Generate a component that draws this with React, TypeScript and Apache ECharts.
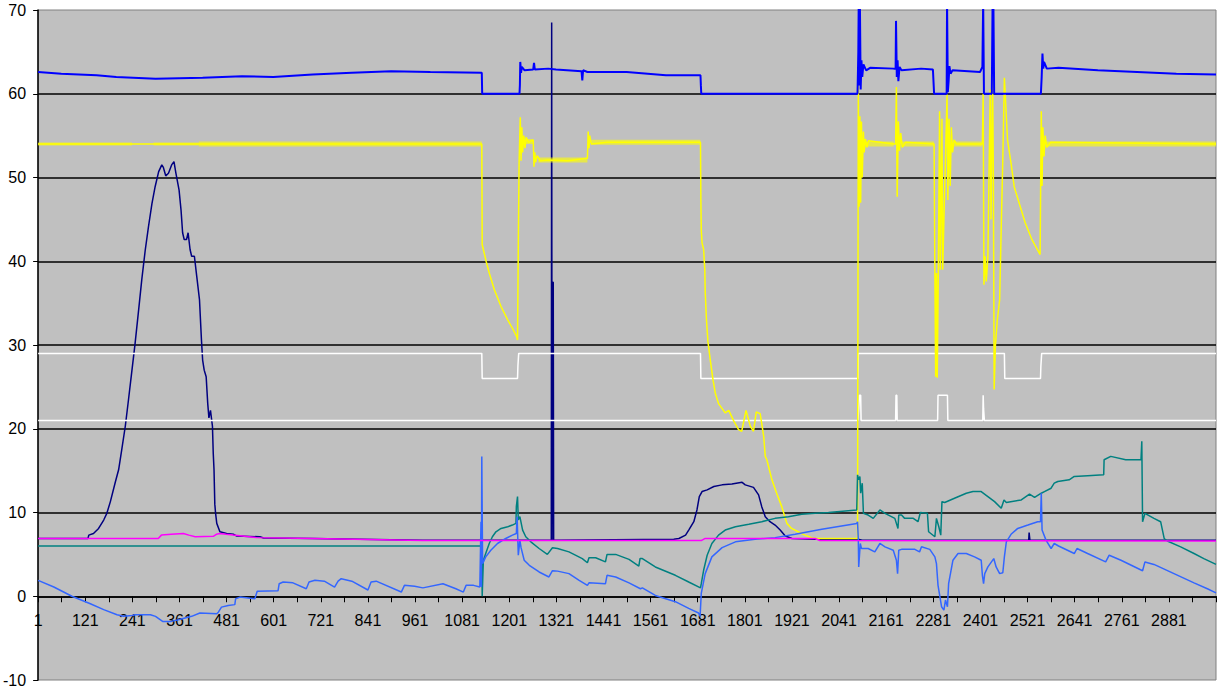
import React, { useEffect, useRef } from 'react';
import * as echarts from 'echarts';

type Pt = [number, number];

// x = sample number (1..3001), y = value
const xTickLabels: string[] = ['1', '121', '241', '361', '481', '601', '721', '841', '961', '1081', '1201', '1321', '1441', '1561', '1681', '1801', '1921', '2041', '2161', '2281', '2401', '2521', '2641', '2761', '2881'];

const blueSeries: Pt[] = [
  [1, 62.6], [60, 62.4], [150, 62.2], [200, 62.0], [300, 61.8], [420, 61.9], [520, 62.1], [600, 62.0], [700, 62.3], [800, 62.5], [900, 62.7], [1000, 62.6], [1131, 62.5],
  [1132, 60], [1227, 60], [1228, 61], [1229, 63.8], [1231, 62.5], [1233, 63.2], [1240, 62.8], [1262, 62.9], [1264, 63.7], [1266, 62.9], [1300, 63.0], [1320, 62.9], [1385, 62.7],
  [1387, 61.6], [1389, 62.8], [1400, 62.6], [1500, 62.6], [1600, 62.2], [1688, 62.2], [1689, 61], [1690, 60], [2088, 60], [2090, 65], [2091, 71], [2093, 61], [2094, 71],
  [2096, 60.5], [2098, 64], [2100, 62], [2103, 63.5], [2110, 62.8], [2120, 63.1], [2180, 63], [2185, 63], [2186, 68.7], [2188, 62], [2190, 64], [2192, 61.5], [2195, 63.2],
  [2200, 62.8], [2250, 63], [2280, 62.9], [2283, 60], [2315, 60], [2316, 71], [2318, 60.2], [2320, 61.5], [2322, 63.3], [2325, 62.4], [2330, 62.8], [2400, 62.6], [2406, 63.2],
  [2408, 71], [2410, 60], [2430, 60], [2432, 71], [2434, 71], [2436, 60], [2555, 60], [2557, 62], [2559, 64.8], [2561, 63], [2563, 63.8], [2570, 63], [2600, 63.1],
  [2700, 62.8], [2800, 62.6], [2900, 62.4], [3001, 62.3],
];

const yellowSeries: Pt[] = [
  [1, 54], [1131, 54], [1132, 42], [1142, 40], [1150, 38.6], [1163, 36.6], [1180, 34.6], [1197, 33], [1209, 32], [1220, 31], [1222, 30.6], [1224, 42], [1226, 51.7],
  [1229, 57.2], [1231, 52], [1233, 56], [1235, 53], [1238, 55], [1241, 53.5], [1244, 54.8], [1250, 54.2], [1262, 54.5], [1264, 51.3], [1266, 53], [1268, 51.8], [1272, 52.6],
  [1280, 52], [1300, 52.1], [1350, 52], [1400, 52.3], [1402, 55.5], [1404, 53.5], [1406, 55], [1410, 54], [1450, 54.2], [1688, 54.2], [1689, 47.3], [1690, 43.7], [1692, 42.2],
  [1696, 41.4], [1699, 39], [1700, 36.4], [1703, 33.2], [1707, 30.4], [1713, 28.2], [1720, 25.8], [1726, 24.2], [1734, 23], [1751, 21.9], [1760, 22.2], [1772, 21],
  [1785, 19.9], [1793, 19.7], [1804, 22.2], [1815, 20.3], [1823, 19.7], [1830, 22], [1840, 21.8], [1844, 20.6], [1849, 19.1], [1853, 16.7], [1857, 16.3], [1870, 13.9],
  [1882, 12.3], [1895, 10.7], [1908, 8.7], [1920, 8.1], [1937, 7.7], [1954, 7.3], [1971, 7.0], [1984, 6.9], [2088, 6.9], [2090, 61], [2092, 46.5], [2094, 57.3], [2096, 47],
  [2098, 56.7], [2100, 50], [2103, 55.5], [2105, 53], [2108, 54.6], [2112, 53.6], [2116, 54.4], [2180, 54], [2185, 54], [2187, 60.8], [2189, 47.7], [2192, 56.7], [2195, 53.2],
  [2198, 55.3], [2202, 53.6], [2210, 54.2], [2283, 54], [2285, 38.6], [2287, 26.2], [2289, 38.6], [2291, 26.1], [2294, 40], [2297, 57.9], [2299, 39], [2303, 57], [2305, 39],
  [2308, 45], [2316, 59.9], [2318, 47.3], [2321, 57], [2324, 49], [2327, 56], [2330, 53], [2334, 54.5], [2340, 54], [2406, 54], [2408, 60], [2410, 37.2], [2413, 40.6],
  [2416, 37.6], [2420, 40.6], [2426, 60.5], [2428, 45], [2432, 62.1], [2434, 50], [2436, 24.7], [2439, 29.8], [2444, 33], [2450, 35.4], [2454, 44.1], [2458, 52.1],
  [2462, 61.9], [2464, 60.1], [2470, 54.5], [2479, 51.7], [2487, 48.9], [2500, 46.9], [2515, 44.6], [2532, 42.6], [2553, 40.8], [2556, 57.9], [2558, 49], [2560, 56],
  [2563, 52.5], [2566, 55], [2570, 53.6], [2580, 54.2], [3001, 54],
];

// [from, to, level] stretches where the yellow trace jitters around a steady level
const yellowJitterSpans: [number, number, number][] = [
  [1, 240, 54.0], [295, 410, 54.0], [410, 1131, 54.0], [1240, 1262, 54.3], [1275, 1400, 52.1], [1410, 1688, 54.2],
  [2108, 2180, 54.0], [2200, 2283, 54.0], [2334, 2406, 54.0], [2570, 3001, 54.0],
];

const whiteUpperSeries: Pt[] = [
  [1, 29], [1131, 29], [1132, 26], [1222, 26], [1223, 27.5], [1225, 29], [1688, 29], [1689, 26], [2089, 26], [2090, 29], [2462, 29], [2463, 26], [2554, 26], [2555, 27.5], [2557, 29], [3001, 29],
];

const whiteLowerSeries: Pt[] = [
  [1, 21], [2089, 21], [2091, 22.4], [2093, 24], [2096, 24], [2097, 21], [2185, 21], [2186, 24], [2188, 24], [2189, 21], [2292, 21], [2293, 24], [2317, 24], [2318, 21],
  [2407, 21], [2408, 24], [2409, 22.4], [2411, 21], [3001, 21],
];

const navySeries: Pt[] = [
  [1, 6.9], [128, 6.9], [130, 7.3], [142, 7.5], [155, 8.1], [168, 9.1], [176, 9.9], [185, 11.3], [198, 13.7], [206, 15.1], [214, 17.5], [223, 20.3], [231, 23.4], [240, 27],
  [248, 30.2], [257, 34.2], [265, 37.8], [274, 41.4], [282, 44.1], [291, 46.9], [299, 48.9], [308, 50.7], [316, 51.5], [320, 51.2], [326, 50.2], [333, 50.5], [341, 51.5],
  [347, 51.9], [352, 50.5], [360, 48.5], [365, 46.1], [369, 43.4], [373, 42.6], [379, 42.6], [383, 43.4], [388, 41.4], [392, 40.6], [399, 40.6], [405, 38.2], [412, 35.4],
  [417, 30.6], [420, 28.2], [424, 27], [429, 26.2], [433, 23], [436, 21.3], [440, 22.2], [445, 20.3], [447, 17.1], [449, 15.1], [451, 11], [453, 9.9], [456, 8.7], [464, 7.7],
  [481, 7.5], [498, 7.4], [506, 7.2], [566, 7.1], [575, 6.95], [700, 6.9], [980, 6.7], [1308, 6.7], [1309, 68.5], [1310, 6.7], [1311, 37.5], [1313, 37.5], [1314, 6.7],
  [1620, 6.8], [1633, 6.9], [1650, 7.3], [1658, 7.9], [1671, 8.9], [1679, 10.3], [1685, 11.9], [1692, 12.5], [1705, 12.7], [1722, 13.1], [1743, 13.3], [1768, 13.4],
  [1794, 13.6], [1802, 13.3], [1823, 13.0], [1836, 12.1], [1844, 10.7], [1853, 9.5], [1865, 8.9], [1878, 8.5], [1891, 7.9], [1904, 7.2], [1921, 6.9], [1980, 6.8],
  [2089, 6.8], [2100, 6.7], [2524, 6.7], [2525, 7.6], [2527, 6.7], [3001, 6.7],
];

const magentaSeries: Pt[] = [
  [1, 6.9], [307, 6.9], [315, 7.3], [340, 7.4], [371, 7.5], [385, 7.3], [401, 7.1], [447, 7.15], [455, 7.4], [464, 7.5], [480, 7.4], [498, 7.3], [557, 7.0], [700, 6.9],
  [981, 6.65], [1690, 6.65], [1700, 6.9], [1980, 6.9], [1992, 6.65], [3001, 6.6],
];

const tealSeries: Pt[] = [
  [1, 6.0], [1131, 6.0], [1132, 0], [1135, 4.3], [1141, 5.1], [1150, 6.3], [1158, 7.1], [1167, 7.7], [1180, 8.1], [1197, 8.3], [1209, 8.5], [1218, 8.7], [1219, 10.7],
  [1222, 11.9], [1224, 9.1], [1228, 9.5], [1235, 7.9], [1243, 7.1], [1256, 6.5], [1277, 5.7], [1298, 5.0], [1311, 5.8], [1324, 5.7], [1353, 5.3], [1387, 4.5], [1400, 4.0],
  [1404, 4.6], [1421, 4.6], [1446, 4.1], [1450, 5.0], [1472, 5.0], [1506, 4.4], [1531, 3.6], [1534, 4.5], [1540, 4.5], [1573, 3.5], [1624, 2.5], [1658, 1.7], [1688, 1.0],
  [1690, 1.5], [1696, 3.1], [1705, 4.9], [1717, 6.3], [1734, 7.3], [1751, 7.9], [1777, 8.3], [1811, 8.6], [1844, 8.9], [1878, 9.3], [1912, 9.5], [1946, 9.8], [1980, 9.9],
  [2014, 10.0], [2086, 10.3], [2088, 14.5], [2091, 13.9], [2094, 14.3], [2096, 12.3], [2100, 13.5], [2103, 9.9], [2115, 9.7], [2128, 9.3], [2145, 10.3], [2158, 9.9],
  [2183, 9.3], [2191, 8.1], [2193, 9.7], [2200, 9.7], [2208, 9.3], [2230, 9.3], [2242, 8.9], [2248, 10.0], [2266, 9.9], [2269, 7.7], [2285, 7.1], [2289, 9.3], [2295, 8.3],
  [2300, 7.3], [2303, 11.3], [2310, 11.2], [2335, 11.7], [2365, 12.3], [2382, 12.5], [2403, 12.5], [2420, 11.9], [2437, 11.3], [2454, 10.5], [2461, 11.5], [2467, 11.2],
  [2505, 11.5], [2526, 12.2], [2539, 11.8], [2556, 12.3], [2564, 12.5], [2581, 12.9], [2589, 13.5], [2598, 13.7], [2627, 13.9], [2640, 14.3], [2674, 14.4], [2715, 14.5],
  [2716, 16.3], [2733, 16.7], [2771, 16.3], [2810, 16.3], [2812, 18.5], [2814, 8.9], [2820, 9.9], [2843, 9.3], [2860, 8.9], [2869, 6.9], [2877, 6.6], [2911, 5.9],
  [2945, 5.1], [2970, 4.5], [3001, 3.8],
];

const lightBlueSeries: Pt[] = [
  [1, 1.9], [41, 1.1], [87, 0], [134, -0.9], [168, -1.6], [202, -2.2], [219, -2.4], [240, -2.3], [248, -2.2], [287, -2.2], [300, -2.4], [318, -3.0], [340, -3.0], [358, -2.8],
  [375, -2.6], [392, -2.4], [413, -2.0], [456, -2.1], [460, -1.9], [468, -1.3], [485, -1.1], [502, -1.0], [504, -0.3], [515, -0.1], [553, -0.3], [559, 0.6], [612, 0.65],
  [615, 1.5], [625, 1.7], [650, 1.6], [684, 0.9], [691, 1.7], [706, 1.9], [730, 1.8], [756, 1.1], [765, 1.8], [773, 2.1], [800, 1.8], [841, 0.75], [849, 1.7], [862, 1.8],
  [926, 0.5], [934, 1.3], [960, 1.2], [981, 1.0], [1032, 1.5], [1065, 0.9], [1084, 0.5], [1091, 1.3], [1110, 1.3], [1126, 1.1], [1129, 8.9], [1130, 1.1], [1131, 16.7],
  [1133, 3.9], [1141, 4.7], [1154, 5.5], [1171, 6.3], [1192, 6.9], [1209, 7.3], [1219, 7.5], [1221, 9.5], [1224, 4.9], [1228, 6.7], [1231, 5.8], [1239, 4.3], [1252, 3.7],
  [1277, 2.9], [1302, 2.3], [1311, 3.05], [1324, 3.0], [1353, 2.7], [1379, 1.9], [1400, 1.3], [1404, 1.6], [1446, 1.5], [1450, 2.5], [1472, 2.3], [1506, 1.6], [1535, 0.9],
  [1540, 1.0], [1573, 0.1], [1624, -0.65], [1658, -1.45], [1683, -2.0], [1687, -2.4], [1690, 0.35], [1700, 2.7], [1717, 4.7], [1743, 5.8], [1777, 6.5], [1827, 6.8],
  [1878, 7.0], [1929, 7.4], [1997, 8.0], [2086, 8.7], [2088, 8.9], [2090, 6.7], [2091, 3.5], [2095, 6.3], [2098, 5.7], [2115, 5.7], [2132, 5.3], [2145, 6.3], [2158, 5.9],
  [2179, 5.5], [2187, 4.3], [2190, 2.7], [2193, 5.5], [2200, 5.6], [2234, 5.6], [2246, 5.3], [2251, 5.9], [2272, 5.6], [2285, 4.7], [2289, 3.9], [2293, 1.3], [2302, -1.25],
  [2308, -1.65], [2312, -0.45], [2317, -1.25], [2320, 1.5], [2331, 4.3], [2344, 5.1], [2365, 5.1], [2386, 4.7], [2403, 4.3], [2406, 2.5], [2409, 1.5], [2412, 2.7],
  [2420, 3.5], [2435, 4.5], [2441, 3.5], [2450, 2.7], [2458, 2.8], [2462, 4.7], [2467, 6.5], [2479, 7.4], [2496, 8.1], [2522, 8.5], [2547, 8.9], [2554, 8.9], [2556, 12.3],
  [2558, 7.9], [2568, 6.7], [2581, 5.7], [2589, 6.3], [2600, 6.0], [2640, 5.1], [2647, 5.7], [2674, 5.1], [2720, 4.1], [2729, 4.9], [2759, 4.3], [2814, 3.05], [2820, 4.1],
  [2843, 3.8], [2894, 2.7], [2945, 1.6], [2979, 0.9], [3001, 0.4],
];

const FONT = '"Liberation Sans", Arial, sans-serif';

const GRID_TOP = 10;
const GRID_BOTTOM = 9;
const CHART_H = 689;
const Y_MIN = -10;
const Y_MAX = 70;

function toAxis(data: Pt[]): Pt[] {
  return data.map(([x, y]) => [x - 1, y] as Pt);
}

function lineSeries(name: string, data: Pt[], color: string, width: number, z: number, opacity = 1) {
  return {
    type: 'line',
    name,
    data: toAxis(data),
    showSymbol: false,
    symbol: 'none',
    silent: true,
    clip: true,
    z,
    lineStyle: { color, width, opacity },
    itemStyle: { color },
    emphasis: { disabled: true },
  };
}

export default function App() {
  const ref = useRef<HTMLDivElement>(null);

  useEffect(() => {
    if (!ref.current) return;
    const chart = echarts.init(ref.current, undefined, { renderer: 'svg' });

    const bandSeries = yellowJitterSpans.map(([a, b, v], i) =>
      lineSeries('yellowBand' + i, [[a, v], [b, v]], '#FFFF00', a < 400 ? 3 : 5, 3, 0.6)
    );

    // put the category axis on the zero line: shift it up from the grid bottom
    const plotH = CHART_H - GRID_TOP - GRID_BOTTOM;
    const zeroOffset = -((0 - Y_MIN) / (Y_MAX - Y_MIN)) * plotH;

    const option: any = {
      animation: false,
      backgroundColor: '#FFFFFF',
      grid: {
        left: 34,
        right: 10,
        top: GRID_TOP,
        bottom: GRID_BOTTOM,
        show: true,
        backgroundColor: '#C0C0C0',
        borderColor: '#808080',
        borderWidth: 1,
      },
      xAxis: {
        type: 'value',
        min: 0,
        max: 3000,
        interval: 60,
        position: 'bottom',
        offset: zeroOffset,
        axisLine: { show: true, onZero: false, lineStyle: { color: '#000000', width: 1.5 } },
        axisTick: { show: true, length: 6, lineStyle: { color: '#000000', width: 1 } },
        axisLabel: {
          color: '#000000',
          fontSize: 16,
          fontFamily: FONT,
          margin: 16,
          formatter: (v: number) => (v % 120 === 0 ? xTickLabels[v / 120] ?? '' : ''),
        },
        splitLine: { show: false },
      },
      yAxis: {
        type: 'value',
        min: Y_MIN,
        max: Y_MAX,
        interval: 10,
        axisLine: { show: true, onZero: false, lineStyle: { color: '#000000', width: 1.5 } },
        axisTick: { show: true, length: 5, lineStyle: { color: '#000000', width: 1 } },
        axisLabel: { color: '#000000', fontSize: 16, fontFamily: FONT, margin: 12 },
        splitLine: { show: true, showMinLine: false, showMaxLine: false, lineStyle: { color: '#000000', width: 1.5 } },
      },
      series: [
        lineSeries('navy', navySeries, '#000080', 1.5, 2),
        lineSeries('whiteUpper', whiteUpperSeries, '#FFFFFF', 1.5, 2),
        lineSeries('whiteLower', whiteLowerSeries, '#FFFFFF', 1.5, 2),
        ...bandSeries,
        lineSeries('yellow', yellowSeries, '#FFFF00', 1.5, 4),
        lineSeries('blue', blueSeries, '#0000FF', 2, 5),
        lineSeries('teal', tealSeries, '#008080', 1.5, 6),
        lineSeries('lightBlue', lightBlueSeries, '#3366FF', 1.5, 7),
        lineSeries('magenta', magentaSeries, '#FF00FF', 1.5, 8),
      ],
    };

    chart.setOption(option);
    return () => {
      chart.dispose();
    };
  }, []);

  return <div ref={ref} style={{ position: 'fixed', left: 0, top: 0, width: 1226, height: 689 }} />;
}
